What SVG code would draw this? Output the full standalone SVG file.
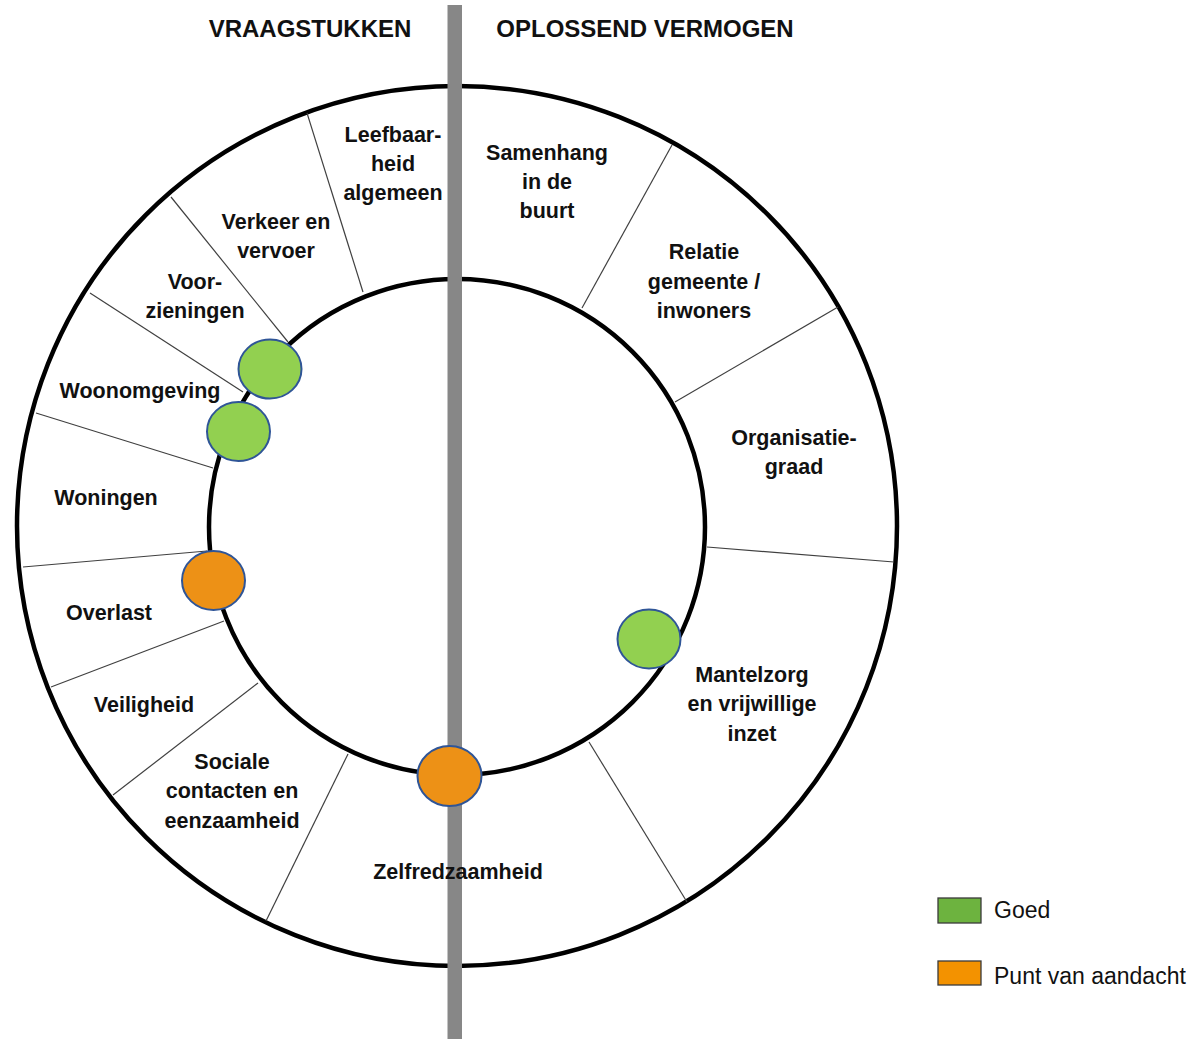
<svg xmlns="http://www.w3.org/2000/svg" width="1194" height="1039" viewBox="0 0 1194 1039">
<style>
.ring{fill:none;stroke:#000;stroke-width:4.5}
.div{stroke:#404040;stroke-width:1.2;fill:none}
.lbl{font-family:"Liberation Sans",Arial,sans-serif;font-weight:bold;font-size:21.5px;fill:#111;text-anchor:middle}
.ttl{font-family:"Liberation Sans",Arial,sans-serif;font-weight:bold;font-size:24px;fill:#111;text-anchor:middle}
.leg{font-family:"Liberation Sans",Arial,sans-serif;font-size:23px;fill:#111}
.good{fill:#92D050;stroke:#2F5597;stroke-width:2}
.warn{fill:#ED9116;stroke:#2F5597;stroke-width:2}
</style>
<rect width="1194" height="1039" fill="#fff"/>
<g id="rings">
<circle class="ring" cx="457" cy="526" r="440"/>
<circle class="ring" cx="457" cy="527" r="248"/>
</g>
<g id="connectors">
<line class="div" x1="307" y1="113" x2="363" y2="292"/>
<line class="div" x1="171" y1="197" x2="288" y2="342"/>
<line class="div" x1="90" y1="293" x2="243" y2="392"/>
<line class="div" x1="36" y1="413" x2="213" y2="468"/>
<line class="div" x1="23" y1="567" x2="207" y2="551"/>
<line class="div" x1="51" y1="687" x2="224" y2="621"/>
<line class="div" x1="113" y1="795" x2="258" y2="683"/>
<line class="div" x1="266" y1="921" x2="348" y2="754"/>
<line class="div" x1="672" y1="145" x2="582" y2="308"/>
<line class="div" x1="838" y1="307" x2="675" y2="402"/>
<line class="div" x1="894" y1="562" x2="707" y2="547"/>
<line class="div" x1="687" y1="902" x2="589" y2="742"/>
</g>
<rect id="divider" x="447.5" y="5" width="14.5" height="1034" fill="#878787"/>
<g id="titles">
<text class="ttl" x="310" y="37">VRAAGSTUKKEN</text>
<text class="ttl" x="645" y="37">OPLOSSEND VERMOGEN</text>
</g>
<g id="n-leefbaarheid"><text class="lbl" x="393" y="142">Leefbaar-</text><text class="lbl" x="393" y="171">heid</text><text class="lbl" x="393" y="200">algemeen</text></g>
<g id="n-samenhang"><text class="lbl" x="547" y="160">Samenhang</text><text class="lbl" x="547" y="189">in de</text><text class="lbl" x="547" y="218">buurt</text></g>
<g id="n-verkeer"><text class="lbl" x="276" y="229">Verkeer en</text><text class="lbl" x="276" y="258">vervoer</text></g>
<g id="n-voorzieningen"><text class="lbl" x="195" y="289">Voor-</text><text class="lbl" x="195" y="318">zieningen</text></g>
<g id="n-woonomgeving"><text class="lbl" x="140" y="398">Woonomgeving</text></g>
<g id="n-woningen"><text class="lbl" x="106" y="505">Woningen</text></g>
<g id="n-overlast"><text class="lbl" x="109" y="620">Overlast</text></g>
<g id="n-veiligheid"><text class="lbl" x="144" y="712">Veiligheid</text></g>
<g id="n-sociale"><text class="lbl" x="232" y="769">Sociale</text><text class="lbl" x="232" y="798">contacten en</text><text class="lbl" x="232" y="828">eenzaamheid</text></g>
<g id="n-zelfredzaamheid"><text class="lbl" x="458" y="879">Zelfredzaamheid</text></g>
<g id="n-relatie"><text class="lbl" x="704" y="259">Relatie</text><text class="lbl" x="704" y="289">gemeente /</text><text class="lbl" x="704" y="318">inwoners</text></g>
<g id="n-organisatie"><text class="lbl" x="794" y="445">Organisatie-</text><text class="lbl" x="794" y="474">graad</text></g>
<g id="n-mantelzorg"><text class="lbl" x="752" y="682">Mantelzorg</text><text class="lbl" x="752" y="711">en vrijwillige</text><text class="lbl" x="752" y="741">inzet</text></g>
<g id="markers">
<ellipse class="good" cx="270" cy="369" rx="31.5" ry="29.5"/>
<ellipse class="good" cx="238.5" cy="431.5" rx="31.5" ry="29.5"/>
<ellipse class="warn" cx="213.5" cy="580.5" rx="31.5" ry="29.5"/>
<ellipse class="warn" cx="449.5" cy="776" rx="32" ry="30"/>
<ellipse class="good" cx="649" cy="639" rx="31.5" ry="29.5"/>
</g>
<g id="legend">
<rect x="938" y="898" width="43" height="25" fill="#6DB33F" stroke="#3B3B3B" stroke-width="1.3"/>
<text class="leg" x="994" y="918">Goed</text>
<rect x="938" y="961" width="43" height="24" fill="#F39200" stroke="#3B3B3B" stroke-width="1.3"/>
<text class="leg" x="994" y="984">Punt van aandacht</text>
</g>
</svg>
